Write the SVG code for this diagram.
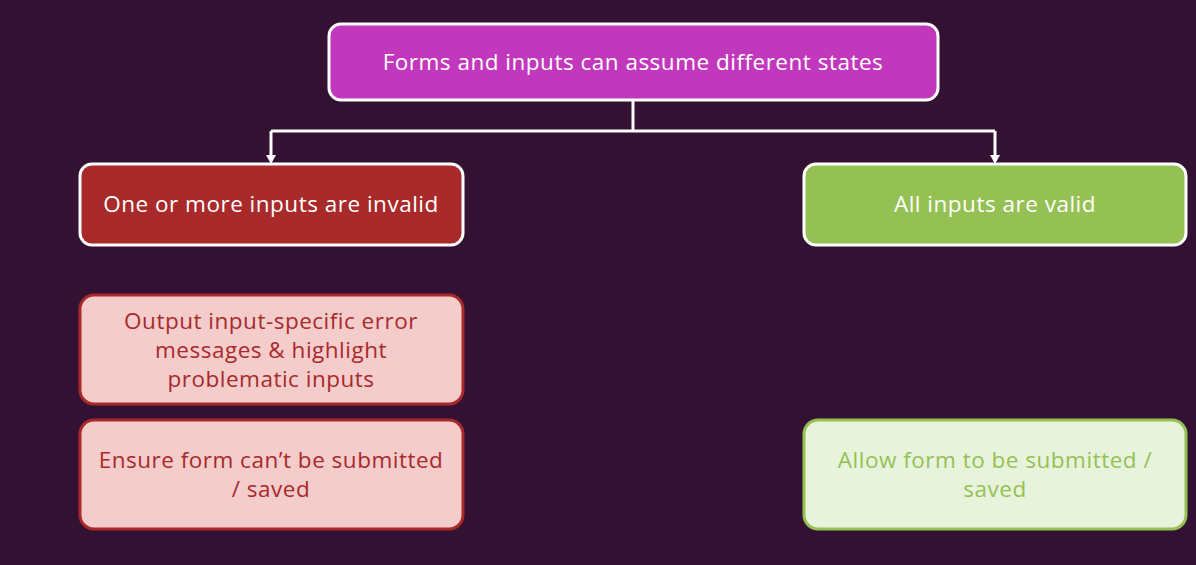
<svg xmlns="http://www.w3.org/2000/svg" width="1196" height="565" viewBox="0 0 1196 565">
<style>
text{font-family:"Open Sans","Lato",sans-serif;font-size:22.5px;text-anchor:middle;letter-spacing:0.5px}
.w{fill:#ffffff}
.r{fill:#a82a2a}
.g{fill:#95c154}
.conn{fill:none;stroke:#ffffff;stroke-width:3}
</style>
<defs>
<marker id="ah" markerWidth="9" markerHeight="10" refX="0" refY="5" orient="auto" markerUnits="userSpaceOnUse" viewBox="0 0 9 10">
<path d="M0,0 L9,5 L0,10 Z" fill="#ffffff"/>
</marker>
</defs>
<rect width="1196" height="565" fill="#331133"/>
<g id="connectors">
<path class="conn" d="M633,100 V131 M271,131 H995"/>
<path class="conn" d="M271,131 V155" marker-end="url(#ah)"/>
<path class="conn" d="M995,131 V155" marker-end="url(#ah)"/>
</g>
<g id="root">
<rect x="329" y="24" width="609" height="76" rx="12" fill="#c238bd" stroke="#ffffff" stroke-width="3"/>
<text class="w" x="633" y="70">Forms and inputs can assume different states</text>
</g>
<g id="invalid">
<rect x="80" y="164" width="383" height="81" rx="12" fill="#a82a2a" stroke="#ffffff" stroke-width="3"/>
<text class="w" x="271" y="212">One or more inputs are invalid</text>
</g>
<g id="valid">
<rect x="804" y="164" width="382" height="81" rx="12" fill="#95c154" stroke="#ffffff" stroke-width="3"/>
<text class="w" x="995" y="212">All inputs are valid</text>
</g>
<g id="output-errors">
<rect x="80" y="295" width="383" height="109" rx="14" fill="#f4cccc" stroke="#a82a2a" stroke-width="3"/>
<text class="r" x="271" y="329">Output input-specific error</text>
<text class="r" x="271" y="358">messages &amp; highlight</text>
<text class="r" x="271" y="387">problematic inputs</text>
</g>
<g id="ensure-not-submitted">
<rect x="80" y="420" width="383" height="109" rx="14" fill="#f4cccc" stroke="#a82a2a" stroke-width="3"/>
<text class="r" x="271" y="468">Ensure form can’t be submitted</text>
<text class="r" x="271" y="497">/ saved</text>
</g>
<g id="allow-submit">
<rect x="804" y="420" width="382" height="109" rx="14" fill="#e8f3dc" stroke="#95c154" stroke-width="3"/>
<text class="g" x="995" y="468">Allow form to be submitted /</text>
<text class="g" x="995" y="497">saved</text>
</g>
</svg>
